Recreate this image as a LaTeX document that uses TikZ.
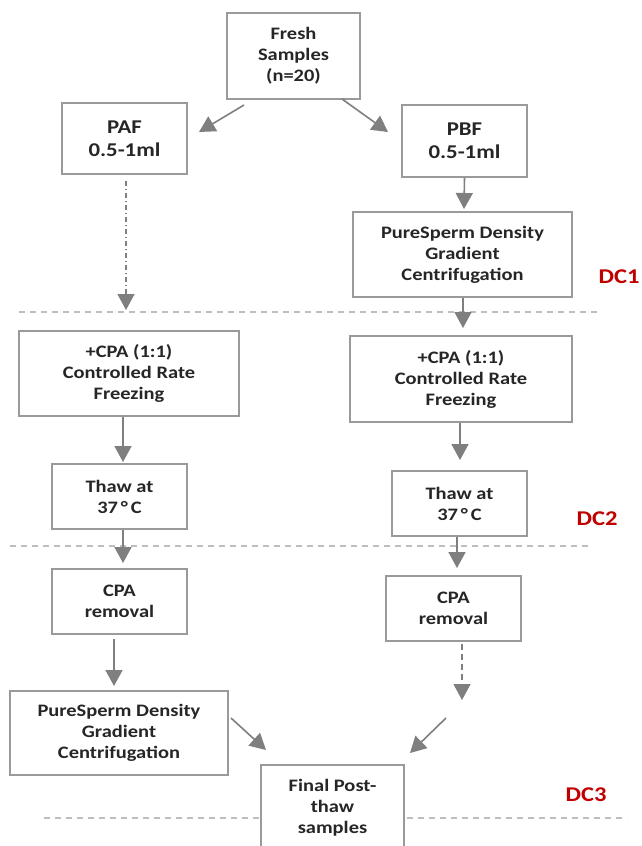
\documentclass[tikz,border=0pt]{standalone}
\usepackage{fontspec}
\setmainfont{Carlito}[FakeStretch=1.17]
\usetikzlibrary{arrows.meta,calc}
\definecolor{boxline}{HTML}{9A9A9A}
\definecolor{arrcol}{HTML}{7F7F7F}
\definecolor{sepcol}{HTML}{BEBEBE}
\definecolor{dcred}{HTML}{C00000}
\definecolor{txt}{HTML}{262626}
\begin{document}
\begin{tikzpicture}[x=1pt,y=-1pt,
  box/.style={draw=boxline,line width=1.4pt,fill=white,align=center,inner sep=0pt,
    text=txt,font=\fontsize{17.5}{21}\selectfont\bfseries},
  bigbox/.style={box,font=\fontsize{19.5}{23}\selectfont\bfseries},
  arr/.style={draw=arrcol,line width=1.6pt,-{Triangle[width=17pt,length=16pt]},arrcol},
  sep/.style={draw=sepcol,line width=1.4pt,dash pattern=on 6pt off 5pt},
  dclab/.style={text=dcred,font=\fontsize{21}{24}\selectfont\bfseries,inner sep=0pt}]
\useasboundingbox (0,0) rectangle (642,846);
\clip (0,0) rectangle (642,846);
\fill[white] (0,0) rectangle (642,846);
% separators
\draw[sep] (19,312) -- (601,312);
\draw[sep] (10,546) -- (592,546);
\draw[sep] (44,818) -- (627,818);
% boxes
\node[box,minimum width=133pt,minimum height=86pt] (fresh) at (293.5,56) {Fresh\\Samples\\(n=20)};
\node[bigbox,minimum width=125pt,minimum height=71pt] (paf) at (124.5,138.5) {PAF\\0.5-1ml};
\node[bigbox,minimum width=125pt,minimum height=72pt] (pbf) at (464.5,141) {PBF\\0.5-1ml};
\node[box,minimum width=219pt,minimum height=85pt] (ps1) at (462.5,254.5) {PureSperm Density\\Gradient\\Centrifugation};
\node[box,minimum width=220pt,minimum height=85pt] (cpaL) at (129,373.5) {+CPA (1:1)\\Controlled Rate\\Freezing};
\node[box,minimum width=222pt,minimum height=86pt] (cpaR) at (461,379) {+CPA (1:1)\\Controlled Rate\\Freezing};
\node[box,minimum width=135pt,minimum height=65pt] (thawL) at (119.5,496.5) {Thaw at\\37\,°\,C};
\node[box,minimum width=135pt,minimum height=65pt] (thawR) at (459.5,503.5) {Thaw at\\37\,°\,C};
\node[box,minimum width=135pt,minimum height=65pt] (remL) at (119.5,601.5) {CPA\\removal};
\node[box,minimum width=135pt,minimum height=65pt] (remR) at (453.5,608.5) {CPA\\removal};
\node[box,minimum width=218pt,minimum height=84pt] (ps2) at (119,733) {PureSperm Density\\Gradient\\Centrifugation};
\node[box,minimum width=143pt,minimum height=86pt] (final) at (332.5,808) {Final Post-\\thaw\\samples};
% labels
\node[dclab] (dc1) at (619,277) {DC1};
\node[dclab] (dc2) at (597,519) {DC2};
\node[dclab] (dc3) at (586,795) {DC3};
% arrow ends
\coordinate (s1) at (244,105);
\coordinate (t1) at (199,132);
\coordinate (s2) at (342,99);
\coordinate (t2) at (388,132);
\coordinate (t3) at (464,209);
\coordinate (t4) at (126,310);
\coordinate (t5) at (463,328);
\coordinate (t6) at (123,462);
\coordinate (t7) at (460,460);
\coordinate (t8) at (123,563);
\coordinate (t9) at (457,568);
\coordinate (t10) at (114,686);
\coordinate (t11) at (462,700);
\coordinate (s12) at (231,718);
\coordinate (t12) at (266,750);
\coordinate (s13) at (446,718);
\coordinate (t13) at (410,753);
% arrows
\draw[arr] (s1) -- (t1);
\draw[arr] (s2) -- (t2);
\draw[arr] (pbf.south) -- (t3);
\draw[arr,dash pattern=on 5pt off 3pt on 1pt off 3pt,line width=1.2pt] ($(paf.south -| t4)+(0,6)$) -- (t4);
\draw[arr] (ps1.south -| t5) -- (t5);
\draw[arr] (cpaL.south -| t6) -- (t6);
\draw[arr] (cpaR.south -| t7) -- (t7);
\draw[arr] (thawL.south -| t8) -- (t8);
\draw[arr] (thawR.south -| t9) -- (t9);
\draw[arr] ($(remL.south -| t10)+(0,4)$) -- (t10);
\draw[arr,dash pattern=on 6pt off 4pt,line width=1.2pt] ($(remR.south -| t11)+(0,2)$) -- (t11);
\draw[arr] (s12) -- (t12);
\draw[arr] (s13) -- (t13);
\end{tikzpicture}
\end{document}
